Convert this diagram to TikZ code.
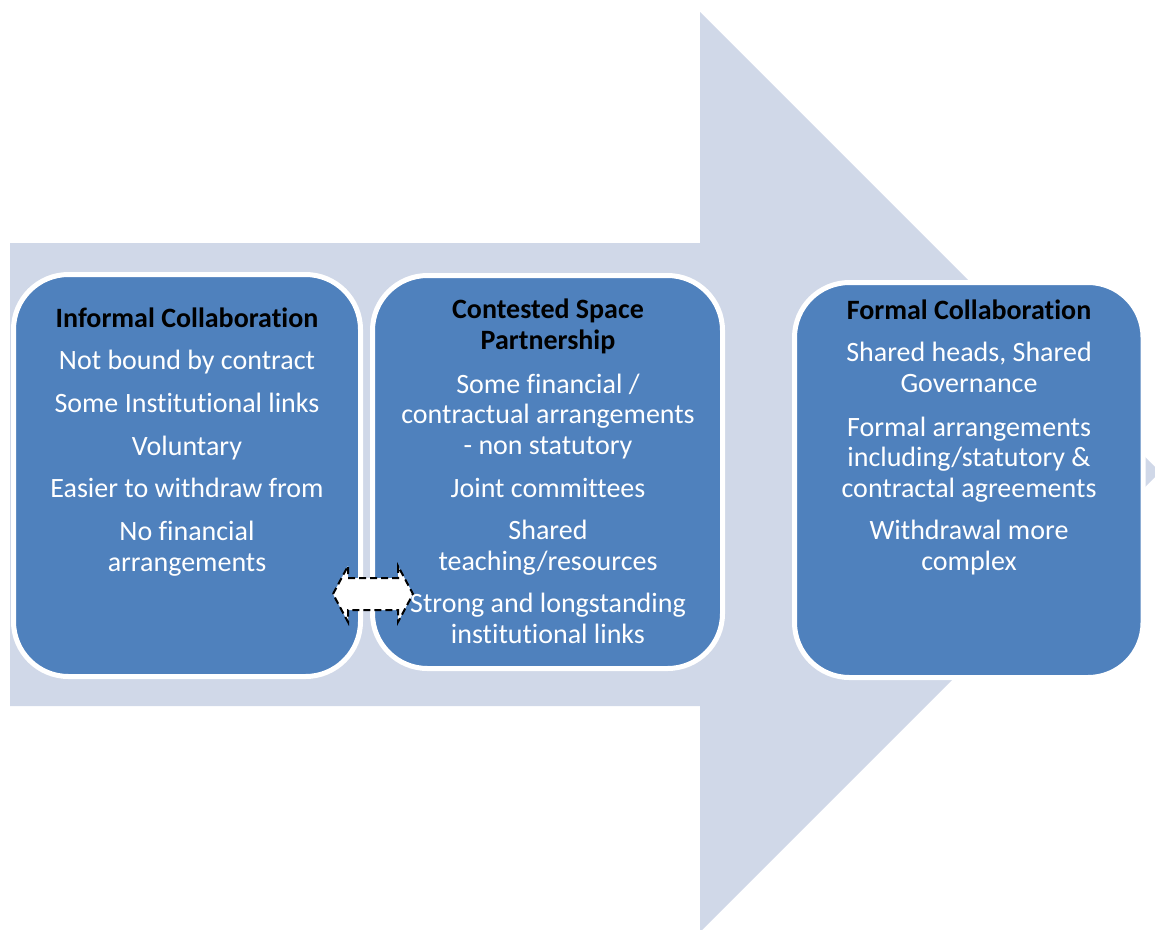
\documentclass[tikz,border=0pt]{standalone}
\usepackage{fontspec}
\setmainfont{Carlito}[Ligatures={NoCommon,NoContextual}]
\definecolor{arrowfill}{HTML}{D0D8E8}
\definecolor{boxblue}{HTML}{4F81BD}
\begin{document}
\begin{tikzpicture}[x=1pt,y=-1pt,
  boxstyle/.style={draw=white,line width=5pt,fill=boxblue,rounded corners=55pt},
  head/.style={font=\fontsize{28}{30.5}\selectfont\bfseries,text=black,align=center,anchor=base,inner sep=0pt},
  item/.style={font=\fontsize{28}{30.5}\selectfont,text=white,align=center,anchor=base,inner sep=0pt},
  dblarrow/.style={draw=black,fill=white,dash pattern=on 7pt off 4pt,line width=2pt,line join=miter}]
\useasboundingbox (0,0) rectangle (1155,929);
\clip (0,0) rectangle (1155,929);
% big background arrow
\fill[arrowfill] (10,243) -- (700,243) -- (700,12) -- (1160,472) -- (700,932) -- (700,706) -- (10,706) -- cycle;
% boxes
\draw[boxstyle] (13.5,274.5) rectangle (360.5,676.5);
\draw[boxstyle] (372.5,275.5) rectangle (722.5,668.5);
\draw[boxstyle] (794.5,282.5) rectangle (1143,677.5);
% double arrow
\draw[dblarrow] (333,594) -- (348,566) -- (348,578) -- (398,578) -- (398,566) -- (413,594) -- (398,622) -- (398,610) -- (348,610) -- (348,622) -- cycle;
% box 1 text (multi-line nodes: base = last line's baseline)
\node[head] (h1) at (187,327) {Informal Collaboration};
\node[item] (a1) at (187,369) {Not bound by contract};
\node[item] (a2) at (187,412) {Some Institutional links};
\node[item] (a3) at (187,455) {Voluntary};
\node[item] (a4) at (187,497) {Easier to withdraw from};
\node[item] (a5) at (187,571) {No financial\\arrangements};
% box 2 text
\node[head] (h2) at (548,349) {Contested Space\\Partnership};
\node[item] (b1) at (548,454) {Some financial /\\contractual arrangements\\- non statutory};
\node[item] (b2) at (548,497) {Joint committees};
\node[item] (b3) at (548,570) {Shared\\teaching/resources};
\node[item] (b4) at (548,643) {Strong and longstanding\\institutional links};
% box 3 text
\node[head] (h3) at (969,319) {Formal Collaboration};
\node[item] (c1) at (969,392) {Shared heads, Shared\\Governance};
\node[item] (c2) at (969,497) {Formal arrangements\\including/statutory \&\\contractal agreements};
\node[item] (c3) at (969,570) {Withdrawal more\\complex};
\end{tikzpicture}
\end{document}
